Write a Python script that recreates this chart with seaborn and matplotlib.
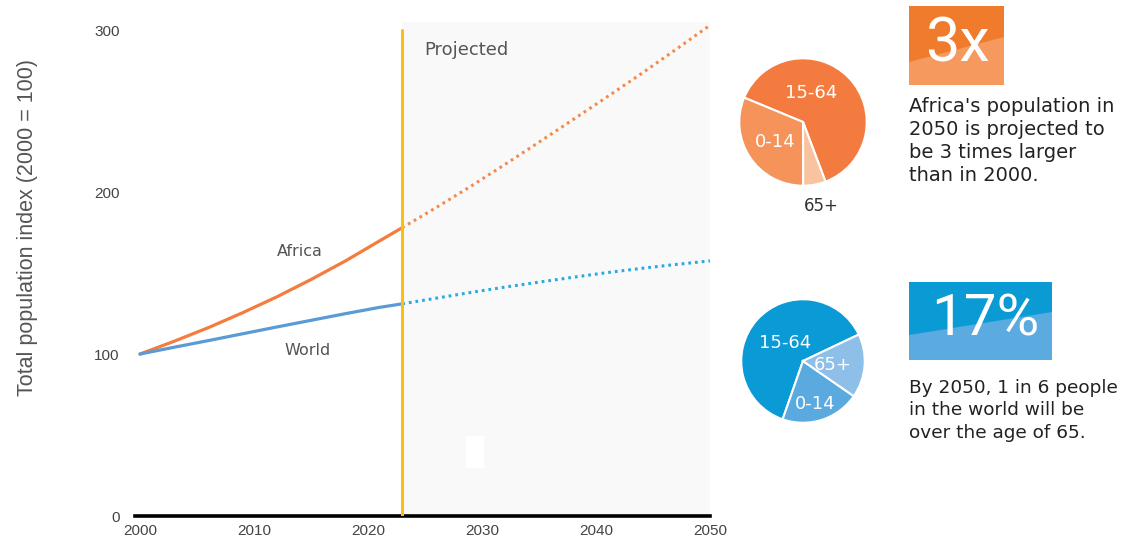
import matplotlib
matplotlib.use("Agg")
import matplotlib.pyplot as plt
import seaborn as sns
import pandas as pd
from matplotlib.patches import Rectangle, Polygon

# ---------------- data ----------------
hist_years = [2000, 2003, 2006, 2009, 2012, 2015, 2018, 2021, 2023]
proj_years = [2023, 2026, 2029, 2032, 2035, 2038, 2041, 2044, 2047, 2050]
africa_hist = [100, 107.9, 116.3, 125.5, 135.3, 146.0, 157.4, 169.8, 178]
africa_proj = [178, 190.5, 203.5, 217, 230.8, 244.8, 258.9, 273.2, 288, 303]
world_hist = [100, 104.2, 108.3, 112.5, 116.7, 120.8, 124.9, 128.8, 131]
world_proj = [131, 134.5, 138, 141.3, 144.4, 147.4, 150.3, 152.9, 155.3, 157.5]
projection_start = 2023

age_groups_africa = ["15-64", "0-14", "65+"]
age_share_africa = [63.0, 31.3, 5.7]
age_groups_world = ["15-64", "0-14", "65+"]
age_share_world = [62.6, 20.7, 16.7]

y_ticks = [0, 100, 200, 300]
x_ticks = [2000, 2010, 2020, 2030, 2040, 2050]

# ---------------- style ----------------
sns.set_style("white")
plt.rcParams["font.family"] = ["DejaVu Sans"]

W, H = 1121, 543
fig = plt.figure(figsize=(W / 100, H / 100), dpi=100)

def fr(x0, y0, x1, y1):
    return [x0 / W, 1 - y1 / H, (x1 - x0) / W, (y1 - y0) / H]

# overlay for boxes / text blocks (pixel coordinates)
ov = fig.add_axes([0, 0, 1, 1])
ov.set_xlim(0, W)
ov.set_ylim(H, 0)
ov.axis("off")
ov.patch.set_alpha(0)

ax = fig.add_axes(fr(135, 22, 710, 516))

df_hist = pd.DataFrame({
    "year": hist_years * 2,
    "value": africa_hist + world_hist,
    "region": ["Africa"] * len(hist_years) + ["World"] * len(hist_years),
})
df_proj = pd.DataFrame({
    "year": proj_years * 2,
    "value": africa_proj + world_proj,
    "region": ["Africa"] * len(proj_years) + ["World"] * len(proj_years),
})

ax.axvspan(projection_start, 2050, color="#F9F9F9", zorder=0, lw=0)
ax.add_patch(Rectangle((2028.6, 29.6), 1.6, 19.8, color="white", zorder=0.5, lw=0))

sns.lineplot(data=df_hist, x="year", y="value", hue="region",
             palette={"Africa": "#F47C3C", "World": "#5B9BD5"},
             linewidth=2.3, legend=False, ax=ax, zorder=3)
sns.lineplot(data=df_proj, x="year", y="value", hue="region",
             palette={"Africa": "#F5894A", "World": "#29A9E1"},
             linewidth=2.2, linestyle=(0, (0.9, 1.3)), legend=False, ax=ax,
             zorder=3)
for ln in ax.lines:
    ln.set_clip_on(False)

ax.axvline(projection_start, ymin=0, ymax=300 / 305, color="#F9C012", lw=2.2, zorder=4)

ax.set_xlim(2000 - 5 / 11.4, 2050)
ax.set_ylim(0, 305)
ax.set_xticks(x_ticks)
ax.set_yticks(y_ticks)
ax.set_xticklabels([str(t) for t in x_ticks], family="Liberation Sans",
                   fontsize=11, color="#444444")
ax.set_yticklabels([str(t) for t in y_ticks], family="Liberation Sans",
                   fontsize=11, color="#444444")
ax.tick_params(axis="both", length=0)
ax.tick_params(axis="y", pad=11)
ax.tick_params(axis="x", pad=6)
for s in ["top", "right", "left"]:
    ax.spines[s].set_visible(False)
ax.spines["bottom"].set_color("black")
ax.spines["bottom"].set_linewidth(2.6)
ax.set_xlabel("")
ax.set_ylabel("Total population index (2000 = 100)", family="Liberation Sans",
              fontsize=15.5, color="#555555")
ax.yaxis.set_label_coords((38 - 135) / 575, (516 - 228) / 494)
ax.patch.set_alpha(0)

ax.text(2014.0, 163, "Africa", fontsize=11.5, color="#555555", ha="center", va="center")
ax.text(2014.7, 102, "World", fontsize=11.5, color="#555555", ha="center", va="center")
ax.text(2028.6, 288, "Projected", fontsize=13, color="#555555", ha="center", va="center")

# ---------------- pies ----------------
pa = fig.add_axes(fr(738, 57, 868, 187))
pa.pie(age_share_africa, colors=["#F47B3F", "#F5935B", "#FAC3A0"],
       startangle=290.7, counterclock=True,
       wedgeprops=dict(edgecolor="white", linewidth=1.5))
pa.set_xlim(-1.02, 1.02)
pa.set_ylim(-1.02, 1.02)
pa.text(0.12, 0.45, age_groups_africa[0], color="white", fontsize=13, ha="center", va="center")
pa.text(-0.43, -0.32, age_groups_africa[1], color="white", fontsize=13, ha="center", va="center")
pa.text(0.29, -1.32, age_groups_africa[2], color="#333333", fontsize=12, ha="center", va="center",
        clip_on=False)

pb = fig.add_axes(fr(740, 298, 866, 424))
pb.pie(age_share_world, colors=["#0A9AD6", "#5AAAE0", "#8DBFE8"],
       startangle=25.4, counterclock=True,
       wedgeprops=dict(edgecolor="white", linewidth=1.5))
pb.set_xlim(-1.02, 1.02)
pb.set_ylim(-1.02, 1.02)
pb.text(-0.29, 0.29, age_groups_world[0], color="white", fontsize=13, ha="center", va="center")
pb.text(0.19, -0.70, age_groups_world[1], color="white", fontsize=13, ha="center", va="center")
pb.text(0.48, -0.06, age_groups_world[2], color="white", fontsize=13, ha="center", va="center")

# ---------------- stat boxes ----------------
ov.add_patch(Rectangle((909, 6), 95, 79, color="#F07B2C", lw=0))
ov.add_patch(Polygon([(909, 62), (1004, 37), (1004, 85), (909, 85)], closed=True,
                     color="#F5995F", lw=0))
ov.text(958, 44, "3x", family="Roboto", fontsize=44, color="white", ha="center", va="center")

ov.add_patch(Rectangle((909, 282), 143, 78, color="#0A9AD4", lw=0))
ov.add_patch(Polygon([(909, 335), (1052, 312), (1052, 360), (909, 360)], closed=True,
                     color="#5BAAE0", lw=0))
ov.text(985, 320, "17%", family="Roboto", fontsize=42, color="white", ha="center", va="center")

ov.text(909, 97, "Africa's population in\n2050 is projected to\nbe 3 times larger\nthan in 2000.",
        fontsize=14, color="#222222", ha="left", va="top", linespacing=1.27)
ov.text(909, 379, "By 2050, 1 in 6 people\nin the world will be\nover the age of 65.",
        fontsize=13.3, color="#222222", ha="left", va="top", linespacing=1.32)

fig.savefig("out.png", dpi=100)
